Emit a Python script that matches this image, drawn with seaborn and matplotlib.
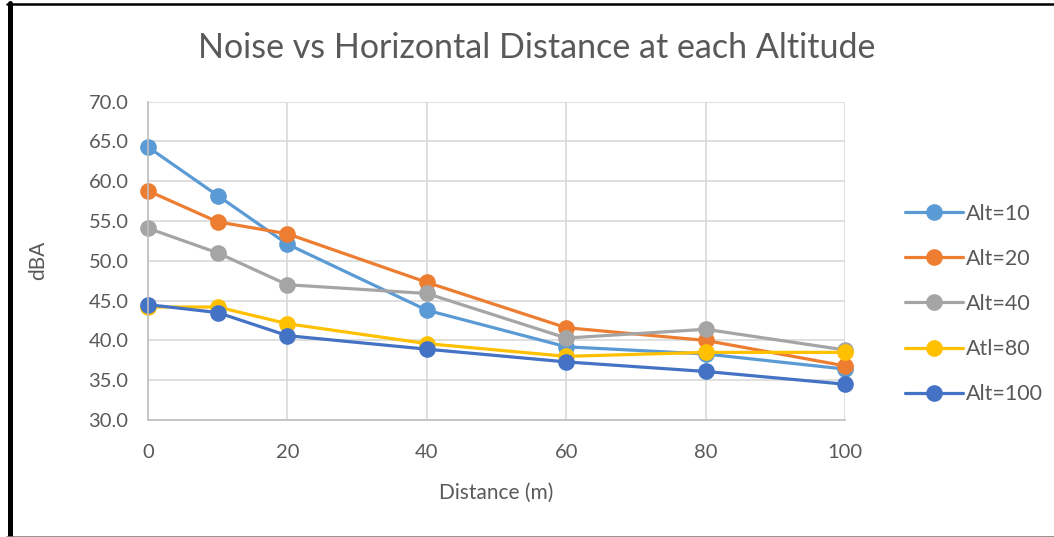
import matplotlib
matplotlib.use("Agg")
import matplotlib.pyplot as plt
import seaborn as sns
import pandas as pd
from matplotlib.lines import Line2D

distance = [0, 10, 20, 40, 60, 80, 100]
alt10 = [64.3, 58.2, 52.1, 43.8, 39.2, 38.3, 36.4]
alt20 = [58.8, 54.9, 53.4, 47.3, 41.6, 40.0, 36.8]
alt40 = [54.1, 51.0, 47.0, 45.9, 40.3, 41.4, 38.8]
alt80 = [44.2, 44.2, 42.1, 39.6, 38.0, 38.5, 38.5]
alt100 = [44.5, 43.5, 40.6, 38.9, 37.3, 36.1, 34.5]
series_names = ["Alt=10", "Alt=20", "Alt=40", "Atl=80", "Alt=100"]
colors = ["#5B9BD5", "#ED7D31", "#A5A5A5", "#FFC000", "#4472C4"]
x_ticks = [0, 20, 40, 60, 80, 100]
y_ticks = [30, 35, 40, 45, 50, 55, 60, 65, 70]

rows = []
for name, vals in zip(series_names, [alt10, alt20, alt40, alt80, alt100]):
    for d, v in zip(distance, vals):
        rows.append({"Distance": d, "dBA": v, "Series": name})
df = pd.DataFrame(rows)

sns.set_theme(style="white")
plt.rcParams['font.family'] = ['Lato', 'DejaVu Sans']

fig = plt.figure(figsize=(10.54, 5.37), dpi=100)
ax = fig.add_axes([148/1054, 1-420/537, (845-148)/1054, (420-101.7)/537])

sns.lineplot(data=df, x="Distance", y="dBA", hue="Series", hue_order=series_names,
             palette=colors, marker="o", markersize=12, linewidth=2.3,
             markeredgewidth=0, ax=ax, legend=False)
for ln in ax.lines:
    ln.set_clip_on(False)

ax.set_xlim(0, 100)
ax.set_ylim(30, 70)
ax.set_xticks(x_ticks)
ax.set_yticks(y_ticks)
ax.set_yticklabels([f"{v:.1f}" for v in y_ticks])
ax.grid(True, color="#D9D9D9", linewidth=1.2)
ax.set_axisbelow(True)
for s in ["top", "right"]:
    ax.spines[s].set_visible(False)
for s in ["left", "bottom"]:
    ax.spines[s].set_color("#BFBFBF")
    ax.spines[s].set_linewidth(1.2)
ax.tick_params(axis="y", length=0, labelsize=14.5, labelcolor="#595959", pad=14)
ax.tick_params(axis="x", length=0, labelsize=14.5, labelcolor="#595959", pad=17)
ax.set_xlabel("Distance (m)", fontsize=15, color="#595959", labelpad=16)
ax.set_ylabel("dBA", fontsize=15, color="#595959", labelpad=29)
fig.text(537/1054, 1-48/537, "Noise vs Horizontal Distance at each Altitude",
         fontsize=24.5, color="#595959", ha="center", va="center")

handles = [Line2D([0], [0], color=c, linewidth=2.3, marker="o", markersize=12,
                  markeredgewidth=0) for c in colors]
fig.legend(handles, series_names, loc="center left", bbox_to_anchor=(0.84, 1-304/537),
           frameon=False, fontsize=15.5, labelcolor="#595959", handlelength=2.7,
           handletextpad=0.15, labelspacing=1.17)

# outer frame lines
fig.add_artist(Line2D([9.5/1054, 9.5/1054], [0, 1-3/537], color="black", linewidth=3.6,
                      transform=fig.transFigure))
fig.add_artist(Line2D([7/1054, 1], [1-4/537, 1-4/537], color="black", linewidth=1.8,
                      transform=fig.transFigure))
fig.add_artist(Line2D([7/1054, 1], [0.5/537, 0.5/537], color="#808080", linewidth=1.2,
                      transform=fig.transFigure))

fig.savefig("out.png", dpi=100)
